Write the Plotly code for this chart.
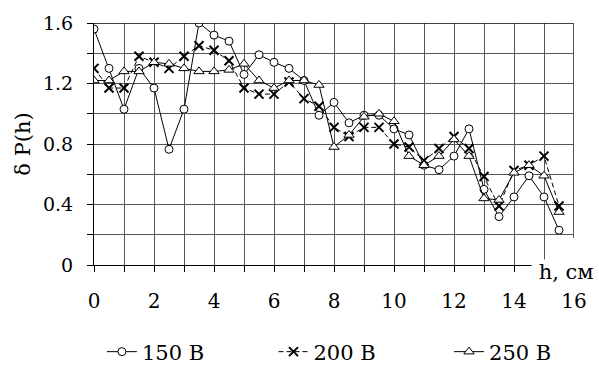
import plotly.graph_objects as go

h = [0, 0.5, 1, 1.5, 2, 2.5, 3, 3.5, 4, 4.5, 5, 5.5, 6, 6.5, 7, 7.5,
     8, 8.5, 9, 9.5, 10, 10.5, 11, 11.5, 12, 12.5, 13, 13.5, 14, 14.5, 15, 15.5]

p150 = [1.56, 1.30, 1.03, 1.30, 1.17, 0.765, 1.03, 1.60, 1.52, 1.48, 1.26, 1.39,
        1.34, 1.30, 1.22, 0.99, 1.075, 0.94, 0.99, 0.99, 0.90, 0.86, 0.66, 0.63,
        0.72, 0.90, 0.50, 0.32, 0.45, 0.59, 0.45, 0.23]

p200 = [1.30, 1.17, 1.17, 1.38, 1.34, 1.30, 1.38, 1.45, 1.42, 1.35, 1.17, 1.13,
        1.13, 1.21, 1.10, 1.05, 0.91, 0.85, 0.91, 0.91, 0.80, 0.78, 0.69, 0.77,
        0.85, 0.77, 0.585, 0.39, 0.625, 0.66, 0.72, 0.39]

p250 = [1.22, 1.22, 1.28, 1.28, 1.34, 1.33, 1.30, 1.28, 1.28, 1.29, 1.33, 1.22,
        1.17, 1.22, 1.22, 1.19, 0.78, 0.86, 0.98, 1.00, 0.95, 0.72, 0.66, 0.72,
        0.83, 0.72, 0.44, 0.43, 0.61, 0.66, 0.59, 0.35]

names = ["150 В", "200 В", "250 В"]
x_ticks = [0, 2, 4, 6, 8, 10, 12, 14, 16]
y_ticks = [0, 0.4, 0.8, 1.2, 1.6]

FONT = "DejaVu Serif"

fig = go.Figure()
fig.add_trace(go.Scatter(
    x=h, y=p150, name=names[0], mode="lines+markers", legend="legend",
    line=dict(color="black", width=1),
    marker=dict(symbol="circle", size=8, color="white",
                line=dict(color="black", width=1)),
))
fig.add_trace(go.Scatter(
    x=h, y=p200, name=names[1], mode="lines+markers", legend="legend2",
    line=dict(color="black", width=1, dash="5px,3px"),
    marker=dict(symbol="x-thin", size=9, color="black",
                line=dict(color="black", width=2)),
))
fig.add_trace(go.Scatter(
    x=h, y=p250, name=names[2], mode="lines+markers", legend="legend3",
    line=dict(color="black", width=1),
    marker=dict(symbol="triangle-up", size=9, color="white",
                line=dict(color="black", width=1)),
))

grid = "#555555"
leg = dict(orientation="h", yref="container", y=13/365, yanchor="middle",
           xanchor="left", font=dict(family=FONT, size=21, color="black"),
           itemwidth=30, bgcolor="rgba(0,0,0,0)")
fig.update_layout(
    width=599, height=365,
    margin=dict(l=94, r=21, t=20, b=100),
    paper_bgcolor="white", plot_bgcolor="white",
    font=dict(family=FONT, size=20, color="black"),
    showlegend=True,
    legend=dict(leg, x=(102 - 94) / 484),
    legend2=dict(leg, x=(275 - 94) / 484),
    legend3=dict(leg, x=(452 - 94) / 484),
    xaxis=dict(range=[0, 16], tickvals=x_ticks, ticktext=[str(v) for v in x_ticks],
               showgrid=True, gridcolor=grid, gridwidth=1,
               minor=dict(dtick=1, tick0=0, showgrid=True, gridcolor=grid,
                          ticks="outside", ticklen=6, tickcolor="black"),
               ticks="outside", ticklen=6, tickcolor="black",
               showline=True, linecolor="black", linewidth=1,
               ticklabelstandoff=12, zeroline=False,
               tickfont=dict(family=FONT, size=20)),
    yaxis=dict(range=[0, 1.6], tickvals=y_ticks,
               ticktext=["0", "0.4", "0.8", "1.2", "1.6"],
               showgrid=True, gridcolor=grid, gridwidth=1,
               minor=dict(dtick=0.2, tick0=0, showgrid=True, gridcolor=grid,
                          ticks="outside", ticklen=6, tickcolor="black"),
               ticks="outside", ticklen=6, tickcolor="black",
               showline=True, linecolor="black", linewidth=1,
               ticklabelstandoff=10, zeroline=False,
               title=dict(text="δ P(h)", font=dict(family=FONT, size=21), standoff=6),
               tickfont=dict(family=FONT, size=19)),
)

fig.add_shape(type="line", xref="paper", yref="y", x0=0, x1=1, y0=1.6, y1=1.6,
              line=dict(color="black", width=1.5))
fig.add_shape(type="line", xref="x", yref="y", x0=16, x1=16, y0=0.18, y1=1.6,
              line=dict(color="#555555", width=2))

fig.add_annotation(text="\u00a0h, см", xref="paper", yref="y", x=1.0 + 21/484, y=0,
                   xanchor="right", yanchor="middle", yshift=-7, showarrow=False,
                   bgcolor="white", borderpad=0,
                   font=dict(family=FONT, size=21, color="black"))

fig.write_html("out.html")
